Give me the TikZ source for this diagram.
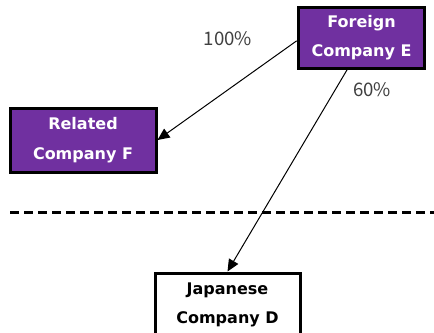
\documentclass[tikz,border=0pt]{standalone}
\usepackage{fontspec}
\setmainfont{DejaVu Sans}
\newfontfamily\labelfont{Noto Sans CJK JP}
\usepackage{tikz}
\usetikzlibrary{calc,arrows.meta}
\definecolor{boxpurple}{HTML}{7030A0}
\def\purplenode{\node[draw=black,line width=2.25pt,fill=boxpurple,text=white,font=\bfseries\fontsize{12}{22}\selectfont,align=center,inner sep=0pt]}
\def\whitenode{\node[draw=black,line width=2.25pt,fill=white,font=\bfseries\fontsize{12}{22}\selectfont,align=center,inner sep=0pt]}

\begin{document}
\begin{tikzpicture}[x=0.75pt,y=-0.75pt,>={Triangle[length=9pt,width=8pt]}]
\useasboundingbox (0,0) rectangle (434,332);
\purplenode[minimum width=95pt,minimum height=45.75pt] (e) at (361.5,37.5) {Foreign\\Company E};
\purplenode[minimum width=109.5pt,minimum height=48pt] (f) at (83,140) {Related\\Company F};
\whitenode[minimum width=108.75pt,minimum height=48pt] (d) at (227.5,305) {Japanese\\Company D};
\node[text=black!75,font=\labelfont\fontsize{14}{16}\selectfont] (p100) at (228,39) {100\%};
\node[text=black!75,font=\labelfont\fontsize{14}{16}\selectfont] (p60) at (372,90) {60\%};
\coordinate (dl) at (10,212);
\coordinate (dr) at (434,212);
\draw[line width=2.25pt,dash pattern=on 6.75pt off 3.75pt] (dl) -- (dr);
\draw[->,line width=0.75pt] ([yshift=-2.5pt]e.west) to (f.east);
\draw[->,line width=0.75pt] ($(e.south west)!0.39!(e.south east)$) to (d.north);
\end{tikzpicture}
\end{document}
